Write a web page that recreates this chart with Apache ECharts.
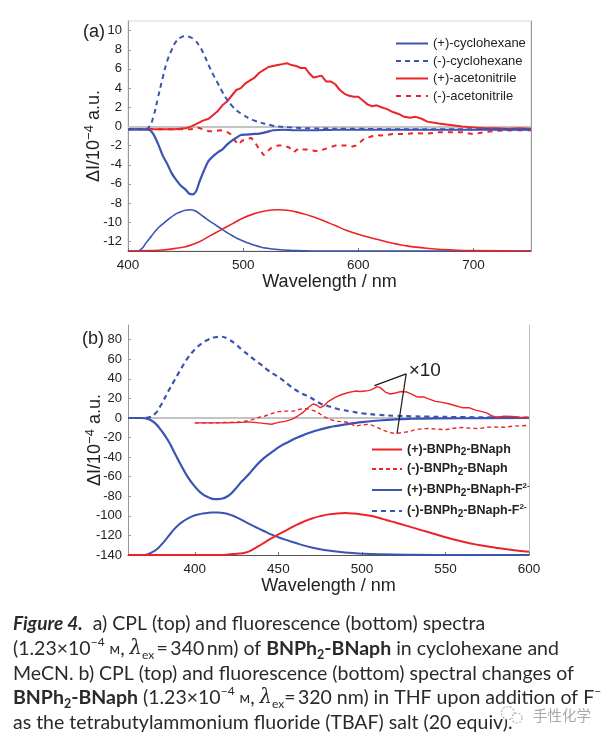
<!DOCTYPE html>
<html><head><meta charset="utf-8">
<script src="https://cdn.jsdelivr.net/npm/echarts@6/dist/echarts.min.js"></script>
<style>html,body{margin:0;padding:0;background:#fff}#c{width:610px;height:743px}</style>
</head><body><div id="c"></div>
<script>
// ---------- Panel (a): CPL and fluorescence, cyclohexane / acetonitrile ----------
const aTickX = [400, 500, 600, 700];
const aTickY = [-12, -10, -8, -6, -4, -2, 0, 2, 4, 6, 8, 10];
const aLegend = ['(+)-cyclohexane', '(-)-cyclohexane', '(+)-acetonitrile', '(-)-acetonitrile'];

const aCycloPlus = [[400,-0.3],[410,-0.3],[418,-0.35],[422,-0.8],[426,-1.8],[430,-3.0],[434,-3.9],[438,-4.9],[442,-5.6],[446,-6.2],[450,-6.6],[453,-7.0],[456,-7.1],[459,-6.8],[462,-5.8],[466,-4.6],[470,-3.6],[474,-3.1],[478,-2.7],[482,-2.4],[486,-1.9],[490,-1.5],[494,-1.2],[498,-0.9],[503,-0.85],[508,-0.8],[514,-0.75],[520,-0.6],[526,-0.4],[535,-0.35],[545,-0.4],[560,-0.4],[580,-0.35],[600,-0.35],[650,-0.35],[700,-0.35],[750,-0.35]];
const aCycloMinus = [[400,-0.3],[414,-0.3],[418,-0.1],[422,1.0],[426,3.0],[430,5.0],[434,6.8],[438,8.0],[442,8.9],[446,9.3],[450,9.4],[454,9.3],[458,9.0],[462,8.4],[466,7.5],[470,6.4],[474,5.4],[478,4.5],[482,3.6],[486,2.8],[490,2.2],[495,1.6],[500,1.2],[505,0.85],[510,0.6],[515,0.4],[520,0.25],[525,0.1],[530,0],[540,-0.1],[560,-0.2],[600,-0.25],[650,-0.3],[700,-0.3],[750,-0.3]];
const aAcnPlus = [[400,-0.3],[420,-0.3],[440,-0.3],[450,-0.2],[455,0.0],[460,0.3],[465,0.6],[470,0.8],[474,1.2],[478,1.6],[482,2.2],[486,2.6],[490,3.2],[494,3.8],[498,4.0],[502,4.5],[506,4.8],[510,5.1],[514,5.6],[518,5.9],[522,6.2],[526,6.3],[530,6.4],[534,6.5],[538,6.6],[542,6.4],[546,6.3],[550,6.1],[554,6.1],[557,5.6],[561,5.1],[565,5.2],[568,5.3],[572,4.7],[576,4.7],[580,4.4],[584,3.8],[588,3.4],[592,3.2],[596,3.1],[600,3.1],[604,2.7],[608,2.3],[612,2.1],[616,2.2],[620,2.0],[625,1.8],[630,1.5],[635,1.3],[640,1.0],[645,0.9],[650,1.0],[655,0.8],[660,0.5],[670,0.3],[680,0.15],[690,0.0],[700,-0.1],[710,-0.2],[720,-0.2],[730,-0.25],[740,-0.2],[750,-0.25]];
const aAcnMinus = [[400,-0.3],[440,-0.3],[455,-0.3],[460,-0.1],[465,-0.3],[470,-0.5],[475,-0.5],[480,-0.4],[485,-0.5],[489,-0.8],[493,-1.5],[496,-1.9],[499,-1.5],[503,-1.3],[507,-1.2],[510,-1.6],[514,-2.4],[518,-3.0],[521,-2.6],[525,-2.2],[530,-2.0],[535,-2.0],[540,-2.2],[544,-2.7],[548,-2.3],[552,-2.4],[556,-2.4],[560,-2.5],[565,-2.6],[570,-2.4],[575,-2.2],[580,-2.0],[585,-2.0],[590,-2.0],[595,-2.1],[598,-2.0],[602,-1.6],[606,-1.2],[610,-1.1],[615,-0.9],[620,-0.95],[630,-0.8],[640,-0.8],[650,-0.7],[660,-0.75],[670,-0.6],[680,-0.6],[690,-0.6],[700,-0.8],[710,-0.6],[720,-0.45],[735,-0.4],[750,-0.4]];
const aFlCyclo = [[400,-13],[408,-13],[412,-12.75],[416,-12.1],[420,-11.5],[425,-10.75],[430,-10.2],[435,-9.7],[440,-9.25],[445,-8.95],[450,-8.75],[454,-8.7],[458,-8.8],[462,-9.1],[466,-9.45],[470,-9.8],[475,-10.2],[480,-10.6],[485,-11.0],[490,-11.35],[495,-11.7],[500,-11.95],[505,-12.2],[510,-12.4],[515,-12.58],[520,-12.7],[530,-12.85],[540,-12.93],[560,-13],[750,-13]];
const aFlAcn = [[400,-13],[420,-12.95],[430,-12.9],[440,-12.75],[450,-12.55],[460,-12.15],[470,-11.5],[480,-10.85],[490,-10.2],[500,-9.55],[510,-9.1],[520,-8.8],[530,-8.7],[540,-8.78],[550,-9.05],[560,-9.4],[570,-9.85],[580,-10.35],[590,-10.85],[600,-11.25],[610,-11.6],[620,-11.9],[630,-12.2],[640,-12.42],[650,-12.6],[660,-12.72],[680,-12.88],[700,-12.96],[750,-13]];

// ---------- Panel (b): CPL and fluorescence in THF, with / without F- ----------
const bTickX = [400, 450, 500, 550, 600];
const bTickY = [-140, -120, -100, -80, -60, -40, -20, 0, 20, 40, 60, 80];
const bLegend = ['(+)-BNPh2-BNaph', '(-)-BNPh2-BNaph', '(+)-BNPh2-BNaph-F2-', '(-)-BNPh2-BNaph-F2-'];

const bPlus = [[400,-5],[410,-5],[420,-4.8],[428,-4.5],[432,-4.0],[437,-4.8],[441,-5.5],[446,-6.4],[450,-4.5],[454,-3.5],[458,-1.5],[462,2.5],[465,6],[468,11],[471,14.5],[473,13],[475,10.5],[477,12],[480,17],[484,21],[488,24],[492,26],[496,27.5],[499,27],[502,27.5],[505,28.5],[507,30],[509,32],[511,31],[514,26.5],[517,24.5],[520,25.5],[523,27],[527,26.5],[530,24],[533,21.5],[537,21.5],[540,19.5],[544,17],[548,16],[552,14.5],[556,12.5],[560,10.5],[564,10.5],[568,8],[572,6.5],[575,5],[578,2],[581,0.5],[585,1.8],[590,1.5],[595,0.5],[600,0.5]];
const bMinus = [[400,-5],[410,-5],[420,-4.5],[428,-4.0],[434,-2.0],[438,0.5],[442,2.0],[446,4.5],[450,6.5],[455,7.0],[459,7.0],[463,9.0],[467,9.5],[470,8.0],[473,6.5],[477,1.5],[481,-1.5],[485,-3.5],[489,-3.8],[493,-5],[496,-8.5],[500,-7],[504,-6.5],[508,-8.5],[512,-12],[516,-14.5],[520,-16],[524,-15],[528,-14],[532,-12],[536,-11],[540,-10.8],[545,-11.5],[550,-12],[555,-10.5],[560,-9.8],[565,-10.5],[570,-10.8],[575,-9.5],[580,-9.2],[585,-9.5],[590,-8.5],[595,-8],[600,-7.5]];
const bPlusF = [[360,0],[368,0],[372,-1],[376,-5],[380,-13],[384,-23],[388,-36],[392,-49],[396,-61],[400,-70],[404,-77],[408,-81],[412,-83],[416,-82.5],[420,-79.5],[424,-73],[428,-65],[432,-58],[436,-50],[440,-43],[444,-37.5],[448,-32.5],[452,-28],[456,-24.5],[460,-21],[465,-17.5],[470,-14.3],[475,-11.8],[480,-9.6],[485,-8],[490,-6.6],[495,-5.3],[500,-4.2],[510,-2.6],[520,-1.4],[530,-0.8],[545,-0.4],[570,-0.2],[600,0]];
const bMinusF = [[360,0],[368,0],[372,0.5],[376,4],[380,14],[384,27],[388,39],[392,51],[396,62],[400,70],[404,76],[408,80],[412,82.5],[416,83],[420,80.5],[424,76],[428,70],[432,64.5],[436,59],[440,54],[444,48.5],[448,44],[452,39.5],[456,34],[460,29],[464,25],[468,22],[472,18],[476,14],[480,12],[484,10],[488,8.3],[494,6.5],[500,4.8],[510,3.2],[520,2.2],[530,1.7],[540,1.3],[560,0.9],[580,0.6],[600,0.5]];
const bFlF = [[360,-140],[370,-140],[374,-137.5],[378,-133],[382,-125.5],[386,-117],[390,-109.5],[394,-104.5],[398,-100.8],[402,-98.6],[406,-97.4],[410,-96.7],[414,-96.5],[418,-97.4],[422,-99.4],[426,-102.4],[430,-106],[434,-109.5],[438,-112.8],[442,-116],[446,-119.2],[450,-121.8],[455,-124.8],[460,-127.5],[465,-130.2],[470,-132.4],[475,-134.2],[480,-135.5],[490,-137.4],[500,-138.6],[510,-139.3],[530,-139.8],[560,-140],[600,-140]];
const bFl = [[360,-140],[415,-140],[420,-139.6],[425,-138.7],[430,-137.7],[435,-134],[440,-129],[445,-123.8],[450,-119],[455,-114.5],[460,-110],[465,-106],[470,-102.8],[475,-100.3],[480,-98.5],[485,-97.5],[490,-97.2],[495,-97.6],[500,-98.6],[505,-100],[510,-102],[515,-104.5],[520,-106.8],[530,-111.8],[540,-116.8],[550,-121.8],[560,-126.3],[570,-129.8],[580,-132.5],[590,-134.8],[600,-136.6]];

// "x10" annotation (data coordinates in panel b)
const bNoteText = '\u00d710';
const bNoteApex = [526.5, 45];
const bNoteEnds = [[507.5, 33], [521, -16]];
const bNoteLabel = [528, 48.5];

// ---------- styles ----------
const BLUE = '#3b53b2';
const RED = '#ec2428';
const FONT = '"Liberation Sans", Arial, sans-serif';
const CAP = 'Lato, "Open Sans", sans-serif';

function line(name, data, color, opts) {
  opts = opts || {};
  const gi = opts.panel || 0;
  return {
    type: 'line', name: name, data: data,
    xAxisIndex: gi, yAxisIndex: gi,
    symbol: 'none', showSymbol: false,
    smooth: opts.smooth || false,
    animation: false, silent: true, z: 3,
    lineStyle: { color: color, width: opts.width || 2, type: opts.dash ? opts.dash : 'solid' },
    itemStyle: { color: color },
    markLine: opts.markLine
  };
}

const zeroLine = {
  silent: true, symbol: ['none', 'none'], z: 1, animation: false,
  label: { show: false },
  lineStyle: { color: '#c4c4c4', width: 2, type: 'solid' },
  data: [{ yAxis: 0 }]
};

function xAxisCfg(gi, min, max, ticks, gap) {
  return {
    type: 'value', gridIndex: gi, min: min, max: max,
    axisLine: { show: true, onZero: false, lineStyle: { color: '#555', width: 1 } },
    axisTick: { show: true, inside: true, length: 3, customValues: ticks, lineStyle: { color: '#777' } },
    axisLabel: { customValues: ticks, fontSize: 13.5, color: '#222', fontFamily: FONT, margin: 7 },
    splitLine: { show: false },
    name: 'Wavelength / nm', nameLocation: 'middle', nameGap: gap,
    nameTextStyle: { fontSize: 18, color: '#222', fontFamily: FONT }
  };
}
function yAxisCfg(gi, min, max, ticks, gap) {
  return {
    type: 'value', gridIndex: gi, min: min, max: max,
    axisLine: { show: true, onZero: false, lineStyle: { color: '#999', width: 1 } },
    axisTick: { show: true, inside: true, length: 3, customValues: ticks, lineStyle: { color: '#999' } },
    axisLabel: { customValues: ticks, fontSize: 13, color: '#222', fontFamily: FONT, margin: 6 },
    splitLine: { show: false },
    name: '{n|\u0394I/10}{s|\u22124}{n| a.u.}', nameLocation: 'middle', nameGap: gap,
    nameMoveOverlap: false,
    nameTextStyle: {
      fontFamily: FONT, color: '#222',
      rich: {
        n: { fontSize: 18, fontFamily: FONT, color: '#222', lineHeight: 22 },
        s: { fontSize: 13, fontFamily: FONT, color: '#222', lineHeight: 12, verticalAlign: 'top' }
      }
    }
  };
}
function frameAxis(gi, color) {
  return {
    type: 'value', gridIndex: gi, position: 'right', min: 0, max: 1,
    axisLine: { show: true, lineStyle: { color: color, width: 1 } },
    axisTick: { show: false }, axisLabel: { show: false }, splitLine: { show: false }
  };
}

const legendRich = {
  t: { fontSize: 12.5, fontWeight: 'bold', fontFamily: FONT, color: '#222', lineHeight: 16 },
  s: { fontSize: 10, fontWeight: 'bold', fontFamily: FONT, color: '#222', lineHeight: 9, verticalAlign: 'bottom' },
  p: { fontSize: 8, fontWeight: 'bold', fontFamily: FONT, color: '#222', lineHeight: 9, verticalAlign: 'top' }
};
function bLegendFmt(name) {
  const m = name.match(/^(\([+-]\)-BNPh)2(-BNaph)(-F)?(2-)?$/);
  if (!m) return name;
  let s = '{t|' + m[1] + '}{s|2}{t|' + m[2] + (m[3] || '') + '}';
  if (m[4]) s += '{p|2-}';
  return s;
}

// caption rich styles
const capRich = {
  r: { fontSize: 19.5, fontFamily: CAP, color: '#2a2a2a', lineHeight: 25 },
  fi: { fontSize: 19, fontFamily: CAP, fontWeight: 'bold', fontStyle: 'italic', color: '#2a2a2a', lineHeight: 25 },
  b: { fontSize: 19.5, fontFamily: CAP, fontWeight: 'bold', color: '#1a1a1a', lineHeight: 25 },
  bs: { fontSize: 12.5, fontFamily: CAP, fontWeight: 'bold', color: '#1a1a1a', lineHeight: 15, verticalAlign: 'bottom' },
  sup: { fontSize: 12, fontFamily: CAP, color: '#2a2a2a', lineHeight: 17, verticalAlign: 'top' },
  sub: { fontSize: 12, fontFamily: CAP, color: '#2a2a2a', lineHeight: 14, verticalAlign: 'bottom' },
  it: { fontSize: 19.5, fontFamily: 'DejaVu Serif, serif', fontStyle: 'italic', color: '#2a2a2a', lineHeight: 25 },
  m: { fontSize: 15, fontFamily: CAP, color: '#2a2a2a', lineHeight: 25 }
};
const capLines = [
  '{fi|Figure 4.}{r|\u2002a) CPL (top) and fluorescence (bottom) spectra}',
  '{r|(1.23\u00d710}{sup|\u22124}{r| }{m|\u043c}{r|, }{it|\u03bb}{sub|ex}{r|\u2009=\u2009340\u2009nm) of }{b|BNPh}{bs|2}{b|-BNaph}{r| in cyclohexane and}',
  '{r|MeCN. b) CPL (top) and fluorescence (bottom) spectral changes of}',
  '{b|BNPh}{bs|2}{b|-BNaph}{r| (1.23\u00d710}{sup|\u22124}{r| }{m|\u043c}{r|, }{it|\u03bb}{sub|ex}{r|=\u2009320 nm) in THF upon addition of F}{sup|\u2212}',
  '{r|as the tetrabutylammonium fluoride (TBAF) salt (20 equiv).}'
];
const capY = [624, 649, 674, 698, 723];

const chart = echarts.init(document.getElementById('c'), null, { renderer: 'canvas' });

const graphics = [
  { type: 'text', x: 83, y: 32, style: { text: '(a)', font: '18px ' + FONT, fill: '#222', verticalAlign: 'middle' } },
  { type: 'text', x: 82, y: 339, style: { text: '(b)', font: '18px ' + FONT, fill: '#222', verticalAlign: 'middle' } }
];
capLines.forEach(function (t, i) {
  graphics.push({ type: 'text', x: 13, y: capY[i], style: { text: t, rich: capRich, verticalAlign: 'middle', fill: '#2a2a2a' } });
});
graphics.push(
  { type: 'circle', shape: { cx: 508, cy: 713, r: 6.5 }, style: { fill: '#fff', stroke: '#b5b5b5', lineWidth: 1.2, lineDash: [2, 1.5] } },
  { type: 'circle', shape: { cx: 517, cy: 718, r: 5 }, style: { fill: '#fff', stroke: '#b5b5b5', lineWidth: 1.2, lineDash: [2, 1.5] } },
  { type: 'text', x: 533, y: 715, style: { text: '\u624b\u6027\u5316\u5b66', font: '14.5px "Noto Sans CJK SC"', fill: '#a8a8a8', verticalAlign: 'middle' } }
);

chart.setOption({
  backgroundColor: '#fff',
  animation: false,
  textStyle: { fontFamily: FONT },
  grid: [
    { left: 128, top: 21, width: 403, height: 230, show: true, borderColor: '#d6d6d6', borderWidth: 1, backgroundColor: 'transparent', outerBoundsMode: 'none' },
    { left: 128, top: 325, width: 401, height: 230, show: false, outerBoundsMode: 'none' }
  ],
  xAxis: [
    xAxisCfg(0, 400, 750, aTickX, 22),
    xAxisCfg(1, 360, 600, bTickX, 20)
  ],
  yAxis: [
    yAxisCfg(0, -13, 11, aTickY, 23),
    yAxisCfg(1, -140, 95, bTickY, 22),
    frameAxis(0, '#9a9a9a'),
    frameAxis(1, '#bdbdbd')
  ],
  legend: [
    {
      data: aLegend, orient: 'vertical', left: 395, top: 37,
      itemWidth: 32, itemHeight: 12, itemGap: 4.5, padding: 0,
      itemStyle: { opacity: 0 },
      textStyle: { fontSize: 13, color: '#222', fontFamily: FONT },
      selectedMode: false
    },
    {
      data: bLegend, orient: 'vertical', left: 371, top: 443,
      itemWidth: 30, itemHeight: 12, itemGap: 5, padding: 0,
      itemStyle: { opacity: 0 },
      formatter: bLegendFmt,
      textStyle: { fontSize: 12.5, fontWeight: 'bold', color: '#222', fontFamily: FONT, rich: legendRich },
      selectedMode: false
    }
  ],
  graphic: graphics,
  series: [
    line('fl-cyclohexane', aFlCyclo, BLUE, { smooth: true, width: 1.6, markLine: zeroLine }),
    line('fl-acetonitrile', aFlAcn, RED, { smooth: true, width: 1.6 }),
    line(aLegend[3], aAcnMinus, RED, { dash: [5, 5], width: 2 }),
    line(aLegend[2], aAcnPlus, RED, { width: 2 }),
    line(aLegend[1], aCycloMinus, BLUE, { dash: [5, 4], smooth: true, width: 2 }),
    line(aLegend[0], aCycloPlus, BLUE, { width: 2.2, smooth: 0.3 }),

    line('fl-F', bFlF, BLUE, { panel: 1, smooth: true, width: 2, markLine: zeroLine }),
    line('fl-neutral', bFl, RED, { panel: 1, smooth: true, width: 2 }),
    line(bLegend[3], bMinusF, BLUE, { panel: 1, dash: [5, 4], smooth: true, width: 2.2 }),
    line(bLegend[2], bPlusF, BLUE, { panel: 1, smooth: true, width: 2.2 }),
    line(bLegend[1], bMinus, RED, { panel: 1, dash: [4, 3], width: 1.4 }),
    Object.assign(line(bLegend[0], bPlus, RED, { panel: 1, width: 1.4 }), {
      markLine: {
        silent: true, symbol: ['none', 'none'], animation: false, label: { show: false },
        lineStyle: { color: '#1a1a1a', width: 1.2, type: 'solid' },
        data: bNoteEnds.map(function (e) { return [{ coord: bNoteApex }, { coord: e }]; })
      },
      markPoint: {
        silent: true, symbol: 'circle', symbolSize: 0, animation: false,
        label: { show: true, position: 'right', distance: 0, formatter: bNoteText, fontSize: 19, color: '#222', fontFamily: FONT },
        data: [{ coord: bNoteLabel }]
      }
    })
  ]
});
</script>
</body></html>
